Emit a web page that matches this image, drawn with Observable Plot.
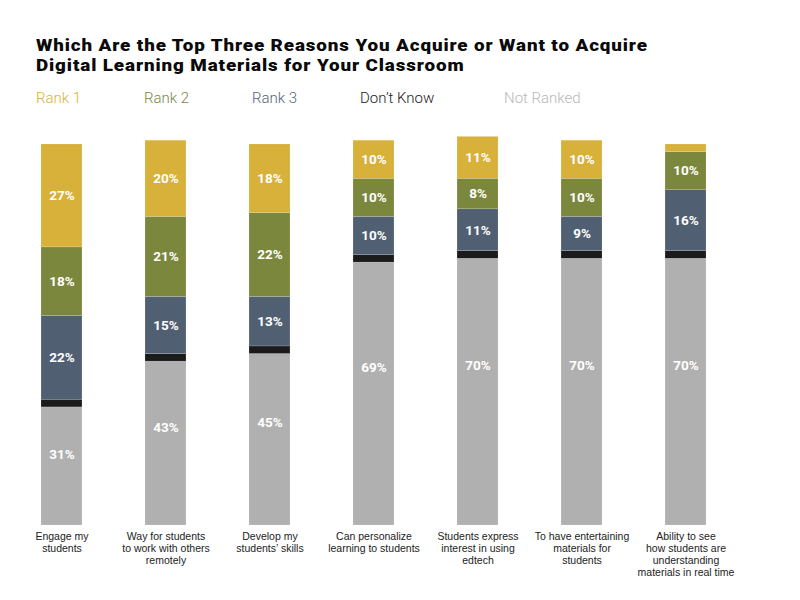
<!DOCTYPE html>
<html>
<head>
<meta charset="utf-8">
<script src="https://cdn.jsdelivr.net/npm/d3@7"></script>
<script src="https://cdn.jsdelivr.net/npm/@observablehq/plot@0.6"></script>
<style>
  html, body { margin: 0; padding: 0; background: #fff; }
  #wrap { position: relative; width: 800px; height: 600px; overflow: hidden; }
  #title { position: absolute; left: 36px; top: 35px; font-family: Roboto, sans-serif; font-weight: 900; font-size: 17px; letter-spacing: 0.8px; line-height: 20px; color: #0a0a0a; white-space: nowrap; transform: scaleX(1.107); transform-origin: 0 0; }
  #legend { position: absolute; left: 36px; top: 89px; display: flex; font-family: Roboto, sans-serif; font-weight: 300; font-size: 15px; line-height: 18px; white-space: nowrap; }
  #legend span { display: inline-block; width: 108px; }
  #legend span.wide { width: 144px; }
  #chart { position: absolute; left: 0; top: 120px; }
</style>
</head>
<body>
<div id="wrap">
  <div id="title">Which Are the Top Three Reasons You Acquire or Want to Acquire<br>Digital Learning Materials for Your Classroom</div>
  <div id="legend"></div>
  <div id="chart"></div>
</div>
<script>
const categories = [
  "Engage my\nstudents",
  "Way for students\nto work with others\nremotely",
  "Develop my\nstudents’ skills",
  "Can personalize\nlearning to students",
  "Students express\ninterest in using\nedtech",
  "To have entertaining\nmaterials for\nstudents",
  "Ability to see\nhow students are\nunderstanding\nmaterials in real time"
];
const seriesNames = ["Rank 1", "Rank 2", "Rank 3", "Don't Know", "Not Ranked"];
const seriesColors = ["#D7B13A", "#7B873D", "#515F72", "#1B1B1B", "#B0B0B0"];
const legendColors = ["#D7B13A", "#7B873D", "#566275", "#222222", "#B8B8B8"];

const rank1     = [27, 20, 18, 10, 11, 10, 2];
const rank2     = [18, 21, 22, 10,  8, 10, 10];
const rank3     = [22, 15, 13, 10, 11,  9, 16];
const dontKnow  = [ 2,  2,  2,  2,  2,  2,  2];
const notRanked = [31, 43, 45, 69, 70, 70, 70];

// legend
const legend = document.getElementById("legend");
seriesNames.forEach((s, i) => {
  const el = document.createElement("span");
  el.textContent = s.replace("'", "’");
  el.style.color = legendColors[i];
  if (s === "Don't Know") el.className = "wide";
  legend.appendChild(el);
});

// stacked rows, bottom to top: Not Ranked, Don't Know, Rank 3, Rank 2, Rank 1
const stackOrder = [
  ["Not Ranked", notRanked],
  ["Don't Know", dontKnow],
  ["Rank 3", rank3],
  ["Rank 2", rank2],
  ["Rank 1", rank1]
];
const rows = [];
categories.forEach((c, i) => {
  let base = 0;
  for (const [name, arr] of stackOrder) {
    const v = arr[i];
    const frac = name === "Not Ranked" ? 0.4 : 0.5;
    rows.push({cat: c, series: name, value: v, y1: base, y2: base + v, ly: base + v - frac * v});
    base += v;
  }
});
const labelRows = rows.filter(d => d.series !== "Don't Know" && d.value >= 5);

const chart = Plot.plot({
  width: 800,
  height: 480,
  marginLeft: 41,
  marginRight: 94,
  marginTop: 24,
  marginBottom: 75,
  x: {domain: categories, paddingInner: 0.606, paddingOuter: 0, round: false, label: null},
  y: {domain: [0, 100], axis: null},
  color: {domain: seriesNames, range: seriesColors},
  marks: [
    Plot.rectY(rows, {x: "cat", y1: "y1", y2: "y2", fill: "series", stroke: "#ffffff", strokeOpacity: 0.25, strokeWidth: 0.6}),
    Plot.text(labelRows, {x: "cat", y: "ly", text: d => d.value + "%", fill: "white", fontFamily: "Roboto", fontWeight: "bold", fontSize: 13.5}),
    Plot.axisX({tickSize: 0, tickPadding: 6, fontSize: 10.5, fontFamily: "Liberation Sans", lineHeight: 1.143, fill: "#222", label: null})
  ]
});
document.getElementById("chart").appendChild(chart);
</script>
</body>
</html>
